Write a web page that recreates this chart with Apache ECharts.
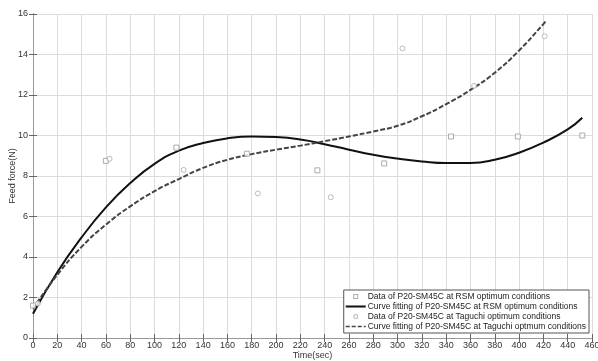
<!DOCTYPE html>
<html>
<head>
<meta charset="utf-8">
<script src="https://cdn.jsdelivr.net/npm/echarts@6/dist/echarts.min.js"></script>
<style>
  html, body { margin: 0; padding: 0; background: #fff; }
  #chart { width: 598px; height: 361px; }
</style>
</head>
<body>
<div id="chart"></div>
<script>
  // data
  var rsmDataX = [0, 60, 118, 176, 234, 289, 344, 399, 452];
  var rsmDataY = [1.6, 8.75, 9.4, 9.1, 8.28, 8.62, 9.95, 9.95, 10.0];
  var tagDataX = [4, 63, 124, 185, 245, 304, 363, 421];
  var tagDataY = [1.7, 8.85, 8.3, 7.14, 6.95, 14.3, 12.45, 14.9];

  var rsmFitX = [0, 20, 40, 60, 80, 100, 120, 140, 160, 180, 200, 220, 240, 260, 280, 300, 320, 340, 360, 380, 400, 420, 440, 452];
  var rsmFitY = [1.2, 3.25, 4.97, 6.45, 7.65, 8.6, 9.25, 9.63, 9.86, 9.95, 9.92, 9.8, 9.57, 9.3, 9.05, 8.86, 8.72, 8.64, 8.64, 8.8, 9.15, 9.65, 10.3, 10.88];
  var tagFitX = [0, 20, 40, 60, 80, 100, 120, 140, 160, 180, 200, 220, 240, 260, 280, 300, 320, 340, 360, 380, 400, 420, 422];
  var tagFitY = [1.45, 3.12, 4.5, 5.6, 6.5, 7.25, 7.85, 8.4, 8.8, 9.08, 9.3, 9.5, 9.72, 9.95, 10.2, 10.48, 10.95, 11.55, 12.25, 13.1, 14.2, 15.5, 15.65];

  var names = [
    'Data of P20-SM45C at RSM optimum conditions',
    'Curve fitting of P20-SM45C at RSM optimum conditions',
    'Data of P20-SM45C at Taguchi optimum conditions',
    'Curve fitting of P20-SM45C at Taguchi optmum conditions'
  ];

  function pairs(xs, ys) {
    return xs.map(function (x, i) { return [x, ys[i]]; });
  }

  // legend icons, drawn in a 20 x 9 box (empty sub-paths pin the corners)
  var box = 'M0,0L0,0Z M20,9L20,9Z ';
  var squareIcon = 'path://' + box + 'M7.5,2L12.5,2L12.5,7L7.5,7Z M8.5,3L8.5,6L11.5,6L11.5,3Z';
  var circleIcon = 'path://' + box + 'M7.5,4.5A2.5,2.5,0,1,1,12.5,4.5A2.5,2.5,0,1,1,7.5,4.5Z M8.5,4.5A1.5,1.5,0,1,0,11.5,4.5A1.5,1.5,0,1,0,8.5,4.5Z';
  var solidIcon = 'path://' + box + 'M0,3.6L20,3.6L20,5.4L0,5.4Z';
  var dashIcon = 'path://' + box + 'M0,3.8L4,3.8L4,5.2L0,5.2Z M6,3.8L10,3.8L10,5.2L6,5.2Z M12,3.8L16,3.8L16,5.2L12,5.2Z M18,3.8L20,3.8L20,5.2L18,5.2Z';

  var font = 'Liberation Sans, Arial, sans-serif';
  var textColor = '#333';
  var axisColor = '#666';

  var myChart = echarts.init(document.getElementById('chart'));
  myChart.setOption({
    animation: false,
    textStyle: { fontFamily: font },
    grid: { left: 33, right: 6, top: 14, bottom: 23, outerBoundsMode: 'none', containLabel: false },
    legend: {
      orient: 'vertical',
      right: 9,
      bottom: 28,
      backgroundColor: '#fff',
      borderColor: '#555',
      borderWidth: 1,
      borderRadius: 0,
      padding: [2, 3, 2, 2],
      itemGap: 1,
      itemWidth: 20,
      itemHeight: 9,
      symbolKeepAspect: false,
      textStyle: { fontFamily: font, fontSize: 8.5, color: '#222', padding: [0, 0, 0, -3] },
      data: [
        { name: names[0], icon: squareIcon, itemStyle: { color: '#999', borderWidth: 0 } },
        { name: names[1], icon: solidIcon, itemStyle: { color: '#111', borderWidth: 0 } },
        { name: names[2], icon: circleIcon, itemStyle: { color: '#aaa', borderWidth: 0 } },
        { name: names[3], icon: dashIcon, itemStyle: { color: '#444', borderWidth: 0 } }
      ]
    },
    xAxis: [{
      type: 'value',
      min: 0,
      max: 460,
      interval: 20,
      name: 'Time(sec)',
      nameLocation: 'middle',
      nameGap: 13,
      nameMoveOverlap: false,
      nameTextStyle: { fontSize: 9, color: textColor },
      axisLine: { show: true, lineStyle: { color: axisColor } },
      axisTick: { inside: true, length: 4, lineStyle: { color: axisColor } },
      axisLabel: { fontSize: 9, color: textColor, margin: 3 },
      splitLine: { show: true, lineStyle: { color: '#dcdcdc', width: 1 } }
    }, {
      type: 'value',
      position: 'top',
      min: 0,
      max: 460,
      interval: 20,
      axisLine: { show: true, lineStyle: { color: '#999' } },
      axisTick: { inside: true, length: 4, lineStyle: { color: axisColor } },
      axisLabel: { show: false },
      splitLine: { show: false }
    }],
    yAxis: [{
      type: 'value',
      min: 0,
      max: 16,
      interval: 2,
      name: 'Feed force(N)',
      nameLocation: 'middle',
      nameGap: 16,
      nameMoveOverlap: false,
      nameTextStyle: { fontSize: 9, color: textColor },
      axisLine: { show: true, lineStyle: { color: axisColor } },
      axisTick: { inside: true, length: 4, lineStyle: { color: axisColor } },
      axisLabel: { fontSize: 9, color: textColor, margin: 5 },
      splitLine: { show: true, lineStyle: { color: '#dcdcdc', width: 1 } }
    }, {
      type: 'value',
      position: 'right',
      min: 0,
      max: 16,
      interval: 2,
      axisLine: { show: true, lineStyle: { color: '#999' } },
      axisTick: { inside: true, length: 4, lineStyle: { color: axisColor } },
      axisLabel: { show: false },
      splitLine: { show: false }
    }],
    series: [
      {
        name: names[0],
        type: 'scatter',
        symbol: 'rect',
        symbolSize: 5,
        itemStyle: { color: '#fff', borderColor: '#999', borderWidth: 1 },
        data: pairs(rsmDataX, rsmDataY),
        z: 3
      },
      {
        name: names[1],
        type: 'line',
        smooth: true,
        showSymbol: false,
        symbol: 'none',
        lineStyle: { color: '#111', width: 2 },
        itemStyle: { color: '#111' },
        data: pairs(rsmFitX, rsmFitY),
        z: 2
      },
      {
        name: names[2],
        type: 'scatter',
        symbol: 'circle',
        symbolSize: 5,
        itemStyle: { color: '#fff', borderColor: '#aaa', borderWidth: 1 },
        data: pairs(tagDataX, tagDataY),
        z: 3
      },
      {
        name: names[3],
        type: 'line',
        smooth: true,
        showSymbol: false,
        symbol: 'none',
        lineStyle: { color: '#444', width: 2, type: [5, 2] },
        itemStyle: { color: '#444' },
        data: pairs(tagFitX, tagFitY),
        z: 2
      }
    ]
  });
</script>
</body>
</html>
